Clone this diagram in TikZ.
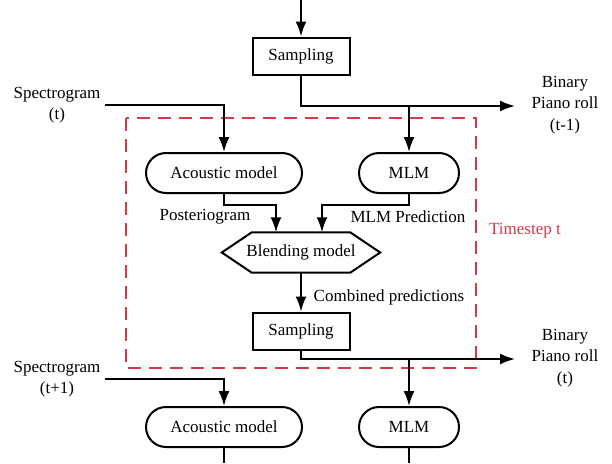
\documentclass[tikz,border=0pt]{standalone}
\usepackage{fontspec}
\setmainfont{Liberation Serif}
\usetikzlibrary{arrows.meta,shapes.misc}
\definecolor{tsred}{RGB}{214,58,72}
\tikzset{
  line/.style={draw=black,line width=2pt},
  arr/.style={line,-{Latex[length=15pt,width=11pt]}},
  sampbox/.style={draw=black,line width=2pt,minimum width=97pt,minimum height=37pt,inner sep=0pt},
  modelbox/.style={draw=black,line width=2pt,rounded rectangle,minimum height=40pt,inner sep=0pt},
  blendbox/.style={minimum width=158pt,minimum height=40pt,inner sep=0pt},
  txt/.style={align=center,inner sep=0pt}
}
\begin{document}
\begin{tikzpicture}[x=1pt,y=-1pt,font=\fontsize{17}{21.5}\selectfont]
                \useasboundingbox (0,0) rectangle (612,463);
                %%%  Timestep frame
                \draw[draw=tsred,line width=1.6pt,dash pattern=on 13pt off 8pt] (126,118) rectangle (476,368);
                \node[txt,text=tsred] (tstep) at (525,231) {Timestep t};
                %%% Boxes of timestep t-1 and t
                \coordinate (top) at (301,0);
                \node[sampbox] (samp1) at (301,56) {Sampling};
                \node[modelbox,minimum width=156pt] (ac1) at (224,173) {Acoustic model};
                \node[modelbox,minimum width=100pt] (mlm1) at (409,173) {MLM};
                \node[blendbox] (blend) at (301,252.5) {Blending model};
                \draw[line,line join=miter] (blend.west) -- ([xshift=30pt]blend.north west) -- ([xshift=-30pt]blend.north east)
                   -- (blend.east) -- ([xshift=-30pt]blend.south east) -- ([xshift=30pt]blend.south west) -- cycle;
                \node[sampbox] (samp2) at (301,331) {Sampling};
                %%% Boxes of timestep t+1
                \node[modelbox,minimum width=156pt] (ac2) at (224,427) {Acoustic model};
                \node[modelbox,minimum width=100pt] (mlm2) at (409,427) {MLM};
                \coordinate (end1) at (224,463);
                \coordinate (end2) at (409,463);
                %%% Inputs and outputs
                \node[txt] (spec1) at (57,105) {Spectrogram\\(t)};
                \node[txt] (spec2) at (57,379) {Spectrogram\\(t+1)};
                \node[txt] (roll1) at (565,105) {Binary\\Piano roll\\(t-1)};
                \node[txt] (roll2) at (565,358) {Binary\\Piano roll\\(t)};
                \coordinate (out1) at (515,106);
                \coordinate (out2) at (515,359);
                \coordinate (br1) at (409,106);
                \coordinate (br2) at (409,359);
                %%% Edge labels
                \node[txt] (post) at (205,217) {Posteriogram};
                \node[txt] (mlmpred) at (408,217) {MLM Prediction};
                \node[txt] (comb) at (389,297) {Combined predictions};
                %%% Connectors
                \draw[arr] (top) -- (samp1.north);
                \draw[arr] (samp1.south) |- (out1);
                \draw[arr] (br1) -- (mlm1.north);
                \draw[arr] ([xshift=4pt]spec1.east) -| (ac1.north);
                \draw[arr] (ac1.south) |- ++(25,11) -| ([xshift=-25pt]blend.north);
                \draw[arr] (mlm1.south) |- ++(-44,11) -| ([xshift=21pt]blend.north);
                \draw[arr] (blend.south) -- (samp2.north);
                \draw[arr] (samp2.south) |- (out2);
                \draw[arr] (br2) -- (mlm2.north);
                \draw[arr] ([xshift=4pt]spec2.east) -| (ac2.north);
                \draw[line] (ac2.south) -- (end1);
                \draw[line] (mlm2.south) -- (end2);
\end{tikzpicture}
\end{document}
